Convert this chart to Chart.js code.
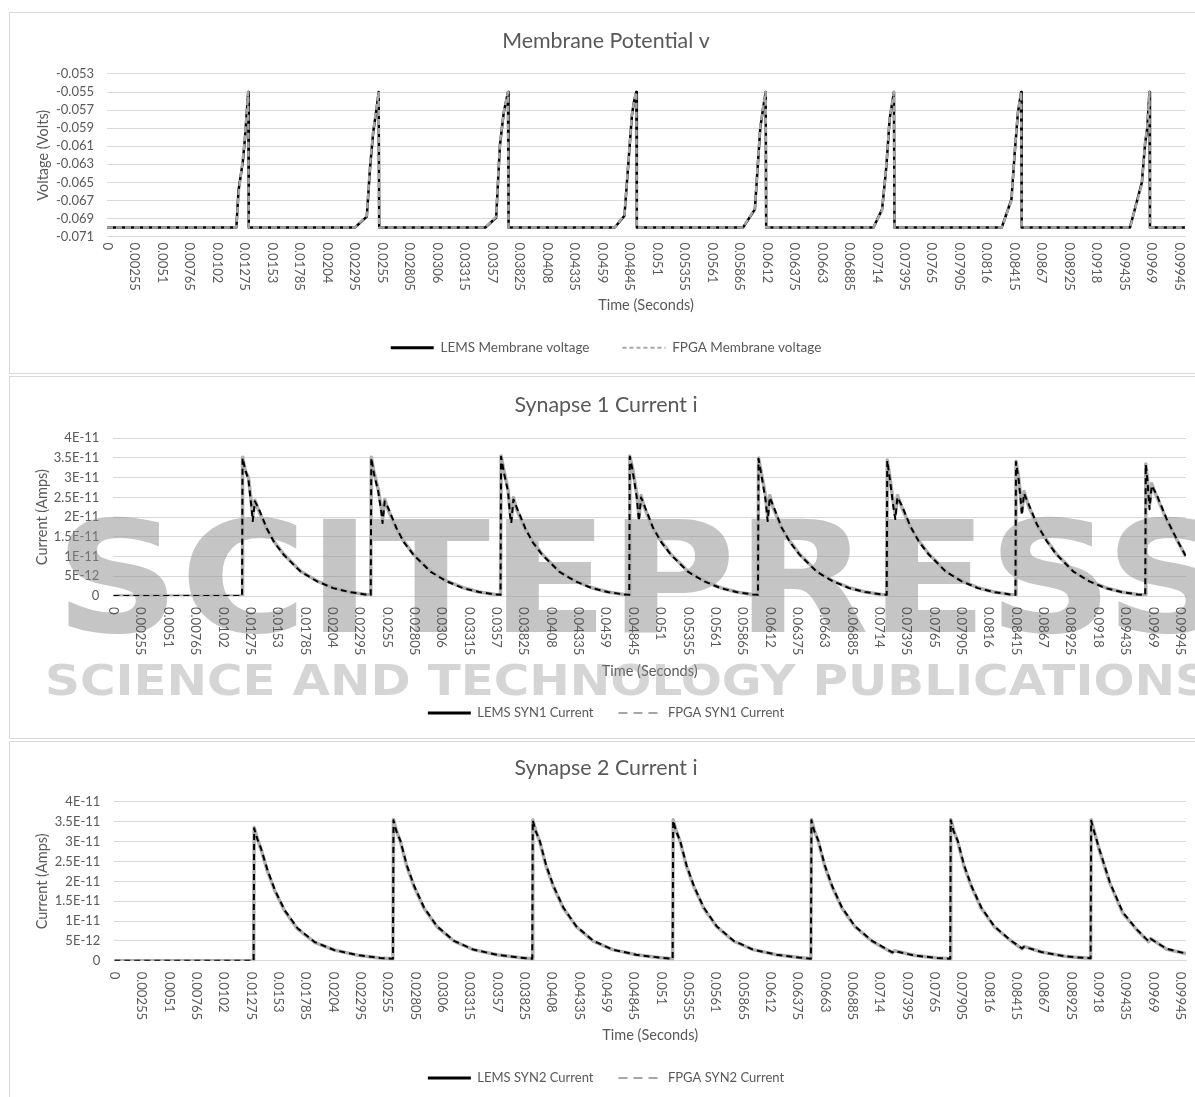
<!DOCTYPE html>
<html>
<head>
<meta charset="utf-8">
<title>Membrane Potential and Synapse Currents</title>
<script src="https://cdn.jsdelivr.net/npm/chart.js@4.4.1/dist/chart.umd.min.js"></script>
<style>
  body { margin: 0; background: #fff; width: 1195px; height: 1097px; overflow: hidden; position: relative; }
  .panel { position: absolute; left: 9px; width: 1200px; border: 1px solid #d9d9d9; }
  canvas { position: absolute; left: 10px; }
</style>
</head>
<body>
<div class="panel" style="top:12px;height:360px"></div>
<div class="panel" style="top:376px;height:361px"></div>
<div class="panel" style="top:741px;height:400px"></div>
<canvas id="chartMem" width="1185" height="359" style="top:13px;width:1185px;height:359px"></canvas>
<canvas id="chartSyn1" width="1185" height="359" style="top:378px;width:1185px;height:359px"></canvas>
<canvas id="chartSyn2" width="1185" height="355" style="top:742px;width:1185px;height:355px"></canvas>

<script>
// x axis labels (seconds), shared by all three panels
const timeLabels = ['0', '0.00255', '0.0051', '0.00765', '0.0102', '0.01275', '0.0153', '0.01785', '0.0204', '0.02295',
    '0.0255', '0.02805', '0.0306', '0.03315', '0.0357', '0.03825', '0.0408', '0.04335', '0.0459', '0.04845',
    '0.051', '0.05355', '0.0561', '0.05865', '0.0612', '0.06375', '0.0663', '0.06885', '0.0714', '0.07395',
    '0.0765', '0.07905', '0.0816', '0.08415', '0.0867', '0.08925', '0.0918', '0.09435', '0.0969', '0.09945'];

// Membrane potential (Volts)
const memTime = [0,
    0.0120, 0.0122, 0.0126, 0.0128, 0.0131, 0.01315,
    0.0230, 0.0241, 0.0244, 0.0247, 0.0250, 0.0252, 0.02525,
    0.0351, 0.0361, 0.03645, 0.0368, 0.0372, 0.03725,
    0.0471, 0.0480, 0.0487, 0.0489, 0.0491, 0.04915,
    0.0590, 0.0601, 0.0606, 0.0609, 0.0611, 0.06115,
    0.0711, 0.0719, 0.0723, 0.0726, 0.0730, 0.07305,
    0.0830, 0.0839, 0.0842, 0.0845, 0.0848, 0.08485,
    0.0949, 0.0960, 0.0963, 0.0965, 0.0967, 0.09675, 0.1];
const memLems = [-0.0700,
    -0.0700, -0.0659, -0.0627, -0.0601, -0.0550, -0.0700,
    -0.0700, -0.0688, -0.0634, -0.0594, -0.0569, -0.0550, -0.0700,
    -0.0700, -0.0689, -0.0609, -0.0573, -0.0550, -0.0700,
    -0.0700, -0.0687, -0.0575, -0.0560, -0.0550, -0.0700,
    -0.0700, -0.0680, -0.0590, -0.0565, -0.0550, -0.0700,
    -0.0700, -0.0680, -0.0632, -0.0580, -0.0550, -0.0700,
    -0.0700, -0.0669, -0.0618, -0.0573, -0.0550, -0.0700,
    -0.0700, -0.0650, -0.0607, -0.0590, -0.0550, -0.0700, -0.0700];
const memFpga = [-0.0700,
    -0.0700, -0.0663, -0.0624, -0.0599, -0.0550, -0.0700,
    -0.0700, -0.0687, -0.0631, -0.0592, -0.0568, -0.0550, -0.0700,
    -0.0700, -0.0688, -0.0607, -0.0572, -0.0550, -0.0700,
    -0.0700, -0.0686, -0.0574, -0.0559, -0.0550, -0.0700,
    -0.0700, -0.0679, -0.0588, -0.0564, -0.0550, -0.0700,
    -0.0700, -0.0681, -0.0630, -0.0579, -0.0550, -0.0700,
    -0.0700, -0.0670, -0.0616, -0.0572, -0.0550, -0.0700,
    -0.0700, -0.0652, -0.0605, -0.0588, -0.0550, -0.0700, -0.0700];
const memTicks = [-0.071, -0.069, -0.067, -0.065, -0.063, -0.061, -0.059, -0.057, -0.055, -0.053];
const memTickLabels = ['-0.071', '-0.069', '-0.067', '-0.065', '-0.063', '-0.061', '-0.059', '-0.057', '-0.055', '-0.053'];

// Synapse 1 current (Amps)
const syn1Time = [0,
    0.0120, 0.01205, 0.0123, 0.0126, 0.0129, 0.0130, 0.0132, 0.0135, 0.0143, 0.0150, 0.0159, 0.0175, 0.0190, 0.0205, 0.0220, 0.0235,
    0.0240, 0.02405, 0.0243, 0.0247, 0.0250, 0.0251, 0.0253, 0.0256, 0.0264, 0.0271, 0.0280, 0.0296, 0.0311, 0.0326, 0.0341, 0.0356,
    0.0361, 0.03615, 0.0364, 0.0368, 0.0370, 0.0371, 0.0373, 0.0376, 0.0384, 0.0391, 0.0400, 0.0416, 0.0431, 0.0446, 0.0461, 0.0476,
    0.0481, 0.04815, 0.0484, 0.0488, 0.0490, 0.0492, 0.0495, 0.0503, 0.0511, 0.0520, 0.0536, 0.0551, 0.0566, 0.0581, 0.0596,
    0.0601, 0.06015, 0.0604, 0.0608, 0.0610, 0.0612, 0.0615, 0.0623, 0.0631, 0.0640, 0.0656, 0.0671, 0.0686, 0.0701, 0.0716,
    0.0721, 0.07215, 0.0724, 0.0727, 0.0729, 0.0731, 0.0735, 0.0743, 0.0751, 0.0760, 0.0776, 0.0791, 0.0806, 0.0821, 0.0836,
    0.0841, 0.08415, 0.0844, 0.0846, 0.0847, 0.0849, 0.0853, 0.0861, 0.0870, 0.0879, 0.0895, 0.0910, 0.0925, 0.0940, 0.0955,
    0.0962, 0.09625, 0.0964, 0.0966, 0.0968, 0.0973, 0.0982, 0.0991, 0.1000];
const syn1Lems = [0,
    0, 3.52e-11, 3.18e-11, 3.0e-11, 2.3e-11, 2.0e-11, 2.43e-11, 2.2e-11, 1.7e-11, 1.38e-11, 1.05e-11, 6.2e-12, 3.8e-12, 2.1e-12, 1.0e-12, 4e-13,
    3e-13, 3.52e-11, 3.15e-11, 2.7e-11, 2.2e-11, 1.95e-11, 2.45e-11, 2.2e-11, 1.7e-11, 1.38e-11, 1.05e-11, 6.2e-12, 3.8e-12, 2.1e-12, 1.0e-12, 4e-13,
    3e-13, 3.55e-11, 3.2e-11, 2.7e-11, 2.1e-11, 1.95e-11, 2.5e-11, 2.2e-11, 1.7e-11, 1.38e-11, 1.05e-11, 6.2e-12, 3.8e-12, 2.1e-12, 1.0e-12, 4e-13,
    3e-13, 3.55e-11, 3.25e-11, 2.6e-11, 2.0e-11, 2.55e-11, 2.25e-11, 1.72e-11, 1.38e-11, 1.05e-11, 6.2e-12, 3.8e-12, 2.1e-12, 1.0e-12, 4e-13,
    3e-13, 3.5e-11, 3.15e-11, 2.55e-11, 2.0e-11, 2.55e-11, 2.25e-11, 1.72e-11, 1.38e-11, 1.05e-11, 6.2e-12, 3.8e-12, 2.1e-12, 1.0e-12, 4e-13,
    3e-13, 3.45e-11, 3.0e-11, 2.4e-11, 2.05e-11, 2.55e-11, 2.25e-11, 1.75e-11, 1.4e-11, 1.07e-11, 6.3e-12, 3.8e-12, 2.1e-12, 1.0e-12, 4e-13,
    3e-13, 3.42e-11, 3.0e-11, 2.5e-11, 2.15e-11, 2.65e-11, 2.3e-11, 1.8e-11, 1.42e-11, 1.07e-11, 6.3e-12, 3.8e-12, 2.1e-12, 1.0e-12, 4e-13,
    3e-13, 3.35e-11, 3.0e-11, 2.3e-11, 2.85e-11, 2.5e-11, 1.93e-11, 1.45e-11, 1.0e-11];
const syn1Fpga = [0,
    0, 3.5e-11, 3.2e-11, 2.95e-11, 2.2e-11, 1.9e-11, 2.4e-11, 2.25e-11, 1.72e-11, 1.36e-11, 1.04e-11, 6.1e-12, 3.7e-12, 2.0e-12, 1.0e-12, 4e-13,
    3e-13, 3.5e-11, 3.1e-11, 2.65e-11, 2.1e-11, 1.85e-11, 2.4e-11, 2.25e-11, 1.72e-11, 1.36e-11, 1.04e-11, 6.1e-12, 3.7e-12, 2.0e-12, 1.0e-12, 4e-13,
    3e-13, 3.53e-11, 3.15e-11, 2.65e-11, 2.0e-11, 1.85e-11, 2.45e-11, 2.25e-11, 1.72e-11, 1.36e-11, 1.04e-11, 6.1e-12, 3.7e-12, 2.0e-12, 1.0e-12, 4e-13,
    3e-13, 3.53e-11, 3.2e-11, 2.5e-11, 1.9e-11, 2.5e-11, 2.3e-11, 1.74e-11, 1.36e-11, 1.04e-11, 6.1e-12, 3.7e-12, 2.0e-12, 1.0e-12, 4e-13,
    3e-13, 3.48e-11, 3.1e-11, 2.45e-11, 1.9e-11, 2.5e-11, 2.3e-11, 1.74e-11, 1.36e-11, 1.04e-11, 6.1e-12, 3.7e-12, 2.0e-12, 1.0e-12, 4e-13,
    3e-13, 3.43e-11, 2.95e-11, 2.3e-11, 1.95e-11, 2.5e-11, 2.3e-11, 1.77e-11, 1.38e-11, 1.06e-11, 6.2e-12, 3.7e-12, 2.0e-12, 1.0e-12, 4e-13,
    3e-13, 3.4e-11, 2.95e-11, 2.4e-11, 2.05e-11, 2.6e-11, 2.35e-11, 1.82e-11, 1.4e-11, 1.06e-11, 6.2e-12, 3.7e-12, 2.0e-12, 1.0e-12, 4e-13,
    3e-13, 3.33e-11, 2.95e-11, 2.2e-11, 2.8e-11, 2.55e-11, 1.95e-11, 1.46e-11, 1.0e-11];

// Synapse 2 current (Amps)
const syn2Time = [0,
    0.0130, 0.01305, 0.0133, 0.0137, 0.0143, 0.0150, 0.0159, 0.0171, 0.0187, 0.0205, 0.0227, 0.0248,
    0.0260, 0.02605, 0.0263, 0.0267, 0.0273, 0.0280, 0.0289, 0.0301, 0.0317, 0.0335, 0.0357, 0.0378,
    0.0390, 0.03905, 0.0393, 0.0397, 0.0403, 0.0410, 0.0419, 0.0431, 0.0447, 0.0465, 0.0487, 0.0508,
    0.0521, 0.05215, 0.0524, 0.0528, 0.0534, 0.0541, 0.0550, 0.0562, 0.0578, 0.0596, 0.0618, 0.0639,
    0.0650, 0.06505, 0.0653, 0.0657, 0.0663, 0.0670, 0.0679, 0.0691, 0.0707, 0.0726, 0.0728, 0.0747, 0.0768,
    0.0780, 0.07805, 0.0783, 0.0787, 0.0793, 0.0800, 0.0809, 0.0821, 0.0837, 0.0847, 0.0849, 0.0865, 0.0887, 0.0900,
    0.0911, 0.09115, 0.0914, 0.0919, 0.0929, 0.0941, 0.0954, 0.0965, 0.0967, 0.0982, 0.1000];
const syn2Lems = [0,
    0, 3.36e-11, 3.12e-11, 2.8e-11, 2.25e-11, 1.75e-11, 1.25e-11, 8.0e-12, 4.6e-12, 2.7e-12, 1.4e-12, 7e-13,
    5e-13, 3.56e-11, 3.3e-11, 3.0e-11, 2.37e-11, 1.85e-11, 1.32e-11, 8.6e-12, 4.9e-12, 2.8e-12, 1.5e-12, 8e-13,
    5e-13, 3.55e-11, 3.3e-11, 3.0e-11, 2.37e-11, 1.85e-11, 1.32e-11, 8.6e-12, 4.9e-12, 2.8e-12, 1.5e-12, 8e-13,
    5e-13, 3.55e-11, 3.3e-11, 3.0e-11, 2.37e-11, 1.85e-11, 1.32e-11, 8.6e-12, 4.9e-12, 2.8e-12, 1.5e-12, 8e-13,
    5e-13, 3.56e-11, 3.3e-11, 3.0e-11, 2.37e-11, 1.85e-11, 1.32e-11, 8.6e-12, 4.9e-12, 2.0e-12, 2.5e-12, 1.3e-12, 7e-13,
    5e-13, 3.56e-11, 3.3e-11, 3.0e-11, 2.37e-11, 1.85e-11, 1.32e-11, 8.6e-12, 4.9e-12, 3.0e-12, 3.6e-12, 2.2e-12, 1.1e-12, 8e-13,
    6e-13, 3.55e-11, 3.3e-11, 2.8e-11, 1.95e-11, 1.2e-11, 7.8e-12, 4.8e-12, 5.6e-12, 2.9e-12, 1.8e-12];
const syn2Fpga = [0,
    0, 3.34e-11, 3.1e-11, 2.82e-11, 2.28e-11, 1.77e-11, 1.27e-11, 8.2e-12, 4.7e-12, 2.7e-12, 1.4e-12, 7e-13,
    5e-13, 3.54e-11, 3.28e-11, 3.02e-11, 2.4e-11, 1.87e-11, 1.34e-11, 8.7e-12, 5.0e-12, 2.8e-12, 1.5e-12, 8e-13,
    5e-13, 3.53e-11, 3.28e-11, 3.02e-11, 2.4e-11, 1.87e-11, 1.34e-11, 8.7e-12, 5.0e-12, 2.8e-12, 1.5e-12, 8e-13,
    5e-13, 3.53e-11, 3.28e-11, 3.02e-11, 2.4e-11, 1.87e-11, 1.34e-11, 8.7e-12, 5.0e-12, 2.8e-12, 1.5e-12, 8e-13,
    5e-13, 3.54e-11, 3.28e-11, 3.02e-11, 2.4e-11, 1.87e-11, 1.34e-11, 8.7e-12, 5.0e-12, 2.1e-12, 2.4e-12, 1.3e-12, 7e-13,
    5e-13, 3.54e-11, 3.28e-11, 3.02e-11, 2.4e-11, 1.87e-11, 1.34e-11, 8.7e-12, 5.0e-12, 3.1e-12, 3.5e-12, 2.2e-12, 1.1e-12, 8e-13,
    6e-13, 3.53e-11, 3.28e-11, 2.82e-11, 1.97e-11, 1.22e-11, 7.9e-12, 4.9e-12, 5.5e-12, 3.0e-12, 1.8e-12];

const ampTicks = [0, 5e-12, 1e-11, 1.5e-11, 2e-11, 2.5e-11, 3e-11, 3.5e-11, 4e-11];
const ampTickLabels = ['0', '5E-12', '1E-11', '1.5E-11', '2E-11', '2.5E-11', '3E-11', '3.5E-11', '4E-11'];

const grey = '#595959';
Chart.defaults.font.family = "Lato, 'Noto Sans', sans-serif";
Chart.defaults.color = grey;

const toPoints = (xs, ys) => xs.map((x, i) => ({ x: x, y: ys[i] }));

// Excel style time labels: rotated clockwise, drawn under the axis at each label value
const timeLabelPlugin = {
    id: 'timeLabels',
    afterDraw(chart, args, opts) {
        const xs = chart.scales.x;
        const ctx = chart.ctx;
        ctx.save();
        ctx.font = "13px Lato, 'Noto Sans', sans-serif";
        ctx.fillStyle = grey;
        ctx.textAlign = 'left';
        ctx.textBaseline = 'middle';
        timeLabels.forEach(lbl => {
            ctx.save();
            ctx.translate(xs.getPixelForValue(Number(lbl)), xs.top + opts.offset);
            ctx.rotate(Math.PI / 2);
            ctx.fillText(lbl, 0, 0);
            ctx.restore();
        });
        ctx.restore();
    }
};

// publisher watermark lying across the middle panel
function stretchText(ctx, text, x, y, w) {
    const m = ctx.measureText(text).width;
    ctx.save();
    ctx.translate(x, y);
    ctx.scale(w / m, 1);
    ctx.fillText(text, 0, 0);
    ctx.restore();
}
const watermarkPlugin = {
    id: 'watermark',
    beforeDatasetsDraw(chart) {
        const ctx = chart.ctx;
        ctx.save();
        ctx.fillStyle = 'rgba(140,140,140,0.5)';
        ctx.textBaseline = 'alphabetic';
        ctx.font = "bold 155px 'DejaVu Sans'";
        stretchText(ctx, 'SCITEPRESS', 45, 254, 1175);
        ctx.fillStyle = 'rgba(150,150,150,0.4)';
        ctx.font = "bold 42px 'DejaVu Sans'";
        stretchText(ctx, 'SCIENCE AND TECHNOLOGY PUBLICATIONS', 35, 317, 1165);
        ctx.restore();
    }
};

function legendItem(text, color, width, dash) {
    return { text: text, strokeStyle: color, fillStyle: 'rgba(0,0,0,0)', lineWidth: width, lineDash: dash,
             pointStyle: 'line', hidden: false, fontColor: grey };
}

function makeChart(id, cfg) {
    return new Chart(document.getElementById(id), {
        type: 'line',
        data: { datasets: cfg.datasets },
        options: {
            responsive: false,
            animation: false,
            events: [],
            layout: { padding: cfg.padding },
            elements: { point: { radius: 0 }, line: { tension: 0, borderJoinStyle: 'round' } },
            plugins: {
                title: { display: true, text: cfg.title, color: grey, font: { size: 21.4, weight: 'normal' }, padding: cfg.titlePad },
                legend: {
                    position: 'bottom',
                    labels: { usePointStyle: true, pointStyleWidth: 43, padding: cfg.legendGap, font: { size: cfg.legendSize },
                              generateLabels: () => cfg.legend }
                },
                tooltip: { enabled: false },
                timeLabels: { offset: cfg.labelOffset }
            },
            scales: {
                x: {
                    type: 'linear', min: 0, max: 0.1,
                    grid: { display: false },
                    border: { color: '#d9d9d9' },
                    ticks: { display: false },
                    title: { display: true, text: 'Time (Seconds)', color: grey, font: { size: 14.5 }, padding: { top: 0, bottom: cfg.xTitlePad } },
                    afterFit: s => { s.height = cfg.xHeight; }
                },
                y: {
                    min: cfg.yTicks[0], max: cfg.yTicks[cfg.yTicks.length - 1],
                    grid: { color: '#d9d9d9', drawTicks: false },
                    border: { display: false },
                    afterBuildTicks: s => { s.ticks = cfg.yTicks.map(v => ({ value: v })); },
                    ticks: { color: grey, font: { size: 13 }, padding: cfg.yTickPad, autoSkip: false, callback: (v, i) => cfg.yLabels[i] },
                    title: { display: true, text: cfg.yTitle, color: grey, font: { size: 14.5 }, padding: { top: cfg.yTitlePad, bottom: 0 } },
                    afterFit: s => { s.width = cfg.yWidth; }
                }
            }
        },
        plugins: [timeLabelPlugin].concat(cfg.extra || [])
    });
}

makeChart('chartMem', {
    title: 'Membrane Potential v',
    titlePad: { top: 15.2, bottom: 20.1 },
    padding: { left: 17, right: 10, top: 0, bottom: 7.5 },
    legendGap: 33, legendSize: 13.5,
    labelOffset: 6,
    xHeight: 71.5, xTitlePad: -6.2,
    yTicks: memTicks, yLabels: memTickLabels, yTitle: 'Voltage (Volts)', yTitlePad: 7.3, yTickPad: 13, yWidth: 80,
    datasets: [
        { label: 'LEMS Membrane voltage', data: toPoints(memTime, memLems), borderColor: '#000000', borderWidth: 2.5, order: 2 },
        { label: 'FPGA Membrane voltage', data: toPoints(memTime, memFpga), borderColor: '#a6a6a6', borderWidth: 2.5, borderDash: [6, 3], order: 1 }
    ],
    legend: [legendItem('LEMS Membrane voltage', '#000000', 3, []), legendItem('FPGA Membrane voltage', '#a6a6a6', 2, [4, 3])]
});

makeChart('chartSyn1', {
    title: 'Synapse 1 Current i',
    titlePad: { top: 14.2, bottom: 20.4 },
    padding: { left: 16, right: 9, top: 0, bottom: 7.5 },
    legendGap: 25, legendSize: 13,
    labelOffset: 11,
    xHeight: 85.5, xTitlePad: 1.8,
    yTicks: ampTicks, yLabels: ampTickLabels, yTitle: 'Current (Amps)', yTitlePad: 7.3, yTickPad: 14, yWidth: 87.3,
    datasets: [
        { label: 'LEMS SYN1 Current', data: toPoints(syn1Time, syn1Lems), borderColor: '#b0b0b0', borderWidth: 3.5, order: 2 },
        { label: 'FPGA SYN1 Current', data: toPoints(syn1Time, syn1Fpga), borderColor: '#000000', borderWidth: 2, borderDash: [6, 4], order: 1 }
    ],
    legend: [legendItem('LEMS SYN1 Current', '#000000', 3, []), legendItem('FPGA SYN1 Current', '#a6a6a6', 2, [9, 6])],
    extra: [watermarkPlugin]
});

makeChart('chartSyn2', {
    title: 'Synapse 2 Current i',
    titlePad: { top: 13.2, bottom: 21.1 },
    padding: { left: 16, right: 9, top: 0, bottom: 2.5 },
    legendGap: 25, legendSize: 13,
    labelOffset: 11,
    xHeight: 85.8, xTitlePad: 2.8,
    yTicks: ampTicks, yLabels: ampTickLabels, yTitle: 'Current (Amps)', yTitlePad: 7.3, yTickPad: 14, yWidth: 88.3,
    datasets: [
        { label: 'LEMS SYN2 Current', data: toPoints(syn2Time, syn2Lems), borderColor: '#b0b0b0', borderWidth: 3.5, order: 2 },
        { label: 'FPGA SYN2 Current', data: toPoints(syn2Time, syn2Fpga), borderColor: '#000000', borderWidth: 2, borderDash: [6, 4], order: 1 }
    ],
    legend: [legendItem('LEMS SYN2 Current', '#000000', 3, []), legendItem('FPGA SYN2 Current', '#a6a6a6', 2, [9, 6])]
});
</script>
</body>
</html>
